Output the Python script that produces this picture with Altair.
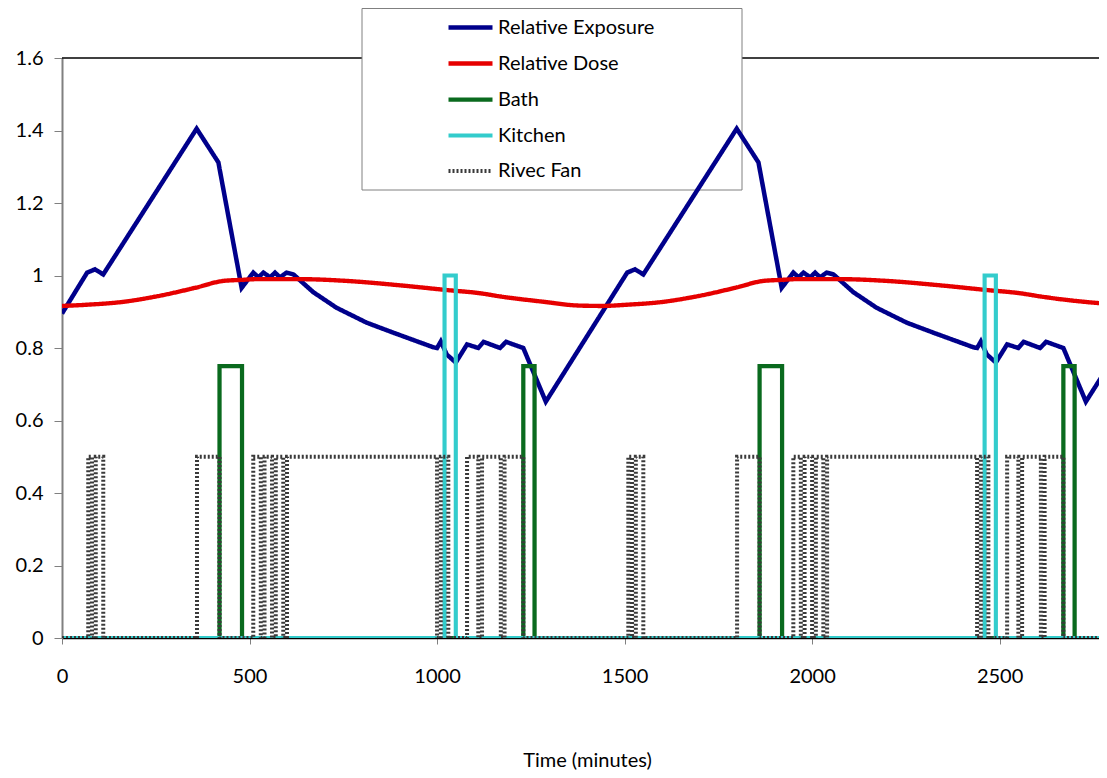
import altair as alt
import pandas as pd

# ---------------- data ----------------
series_names = ["Relative Exposure", "Relative Dose", "Bath", "Kitchen", "Rivec Fan"]
series_colors = ["#00008B", "#E60000", "#0A6A1E", "#33CCCC", "#3A3A3A"]

x_ticks = [0, 500, 1000, 1500, 2000, 2500]
y_ticks = [0, 0.2, 0.4, 0.6, 0.8, 1.0, 1.2, 1.4, 1.6]
x_max = 2765

exposure_t = [0, 67, 88, 110, 359, 417, 479, 510, 524, 537, 555, 568, 581, 599,
              617, 670, 732, 812, 884, 990, 1000, 1010, 1026, 1050, 1080, 1110,
              1124, 1168, 1184, 1230, 1290,
              1507, 1528, 1550, 1799, 1857, 1919, 1950, 1964, 1977, 1995, 2008,
              2021, 2039, 2057, 2110, 2172, 2252, 2324, 2430, 2440, 2450, 2466,
              2490, 2520, 2550, 2564, 2608, 2624, 2670, 2730, 2787]
exposure_v = [0.895, 1.008, 1.017, 1.003, 1.405, 1.312, 0.966, 1.008, 0.995, 1.008,
              0.995, 1.008, 0.995, 1.008, 1.003, 0.954, 0.911, 0.870, 0.842, 0.802,
              0.800, 0.818, 0.782, 0.760, 0.810, 0.800, 0.817, 0.800, 0.817, 0.800,
              0.652,
              1.008, 1.017, 1.003, 1.405, 1.312, 0.966, 1.008, 0.995, 1.008, 0.995,
              1.008, 0.995, 1.008, 1.003, 0.954, 0.911, 0.870, 0.842, 0.802, 0.800,
              0.818, 0.782, 0.760, 0.810, 0.800, 0.817, 0.800, 0.817, 0.800, 0.652,
              0.745]

dose_t = [0, 60, 160, 250, 355, 430, 480, 520, 630, 760, 900, 1025, 1115, 1170,
          1280, 1380, 1440, 1500, 1600, 1690, 1795, 1870, 1920, 1960, 2070, 2200,
          2340, 2465, 2555, 2610, 2720, 2787]
dose_v = [0.916, 0.919, 0.927, 0.942, 0.966, 0.985, 0.988, 0.990, 0.990, 0.985,
          0.973, 0.960, 0.951, 0.942, 0.928, 0.917, 0.916, 0.919, 0.927, 0.942,
          0.966, 0.985, 0.988, 0.990, 0.990, 0.985, 0.973, 0.960, 0.951, 0.942,
          0.928, 0.922]

bath_t = [0, 420, 480, 1230, 1260, 1860, 1920, 2670, 2700, 2787]
bath_v = [0, 0.75, 0, 0.75, 0, 0.75, 0, 0.75, 0, 0]

kitchen_t = [0, 1020, 1050, 2460, 2490, 2787]
kitchen_v = [0, 1, 0, 1, 0, 0]

fan_t = [0, 70, 80, 90, 110, 360, 420, 510, 530, 540, 560, 570, 590, 600, 1000,
         1010, 1030, 1080, 1110, 1120, 1170, 1180, 1230, 1510, 1520, 1530, 1550,
         1800, 1860, 1950, 1970, 1980, 2000, 2010, 2030, 2040, 2440, 2450, 2470,
         2520, 2550, 2560, 2610, 2620, 2670, 2787]
fan_v = [0, 0.5, 0, 0.5, 0, 0.5, 0, 0.5, 0, 0.5, 0, 0.5, 0, 0.5, 0, 0.5, 0, 0.5,
         0, 0.5, 0, 0.5, 0, 0.5, 0, 0.5, 0, 0.5, 0, 0.5, 0, 0.5, 0, 0.5, 0, 0.5,
         0, 0.5, 0, 0.5, 0, 0.5, 0, 0.5, 0, 0]

# ---------------- chart ----------------
FONT = "Lato"
FS = 20

xscale = alt.Scale(domain=[0, x_max], nice=False, zero=False)
yscale = alt.Scale(domain=[y_ticks[0], y_ticks[-1]], nice=False)

xaxis = alt.Axis(values=x_ticks, format="d", title="Time (minutes)", grid=False,
                 domainColor="black", domainWidth=1.5, tickColor="#808080",
                 tickSize=6, labelFont=FONT, labelFontSize=FS, labelColor="black",
                 labelPadding=22, labelFlush=False, titleFont=FONT, titleFontSize=FS,
                 titleFontWeight="normal", titleColor="black", titleX=525,
                 titleY=128, titleBaseline="alphabetic", titleAlign="center")
yaxis = alt.Axis(values=y_ticks, format="~g", title=None, grid=False,
                 domainColor="#808080", domainWidth=2, tickColor="#808080",
                 tickSize=8, labelFont=FONT, labelFontSize=FS, labelColor="black",
                 labelPadding=11)

legend = alt.Legend(orient="none", legendX=384, legendY=-55, title=None,
                    symbolType="stroke", symbolSize=1936, labelFont=FONT,
                    labelFontSize=FS, labelColor="black", labelOffset=3,
                    rowPadding=1, padding=0)

cscale = alt.Scale(domain=series_names, range=series_colors)
dscale = alt.Scale(domain=series_names, range=[[1, 0], [1, 0], [1, 0], [1, 0], [2, 2]])
wscale = alt.Scale(domain=series_names, range=[4.5, 4, 3.5, 3.5, 0.7])


def series_layer(name, ts, vs, interp):
    df = pd.DataFrame({"t": ts, "v": vs, "series": name})
    return alt.Chart(df).mark_line(clip=True, interpolate=interp).encode(
        x=alt.X("t:Q", scale=xscale, axis=xaxis),
        y=alt.Y("v:Q", scale=yscale, axis=yaxis),
        color=alt.Color("series:N", scale=cscale, legend=legend),
        strokeDash=alt.StrokeDash("series:N", scale=dscale, legend=legend),
        strokeWidth=alt.StrokeWidth("series:N", scale=wscale, legend=legend),
    )


top_border = alt.Chart(pd.DataFrame({"v": [y_ticks[-1]]})).mark_rule(
    color="black", strokeWidth=1.5).encode(
    y=alt.Y("v:Q", scale=yscale, axis=yaxis))

legend_box = alt.Chart(pd.DataFrame({"a": [0]})).mark_rect(
    fill="white", stroke="#808080", strokeWidth=1).encode(
    x=alt.value(300), x2=alt.value(680), y=alt.value(-49.5), y2=alt.value(132))

chart = alt.layer(
    top_border,
    legend_box,
    series_layer("Relative Exposure", exposure_t, exposure_v, "linear"),
    series_layer("Relative Dose", dose_t, dose_v, "monotone"),
    series_layer("Bath", bath_t, bath_v, "step-after"),
    series_layer("Kitchen", kitchen_t, kitchen_v, "step-after"),
    series_layer("Rivec Fan", fan_t, fan_v, "step-after"),
).properties(
    width=1037, height=580,
    autosize=alt.AutoSizeParams(type="none"),
    padding={"left": 54, "top": 50, "right": 0, "bottom": 132},
).configure_view(stroke=None)

chart.save("out.html", embed_options={"renderer": "svg", "actions": False})
